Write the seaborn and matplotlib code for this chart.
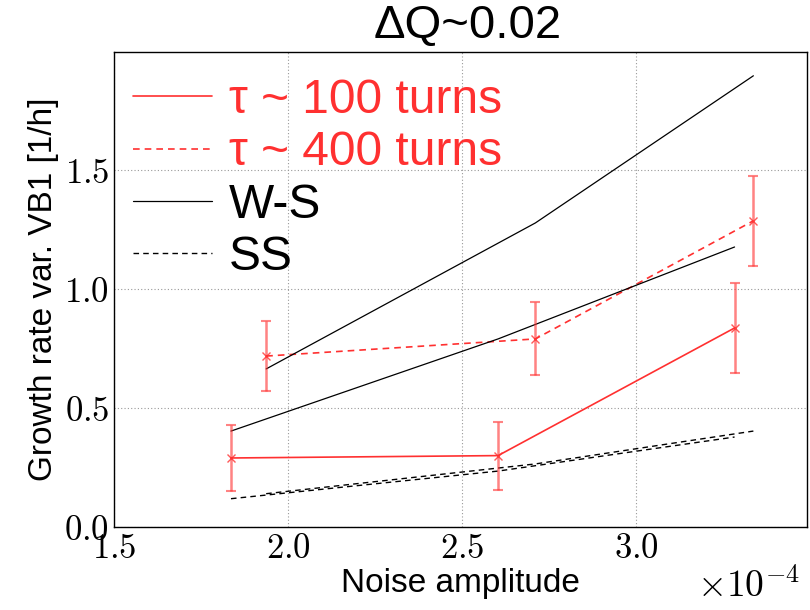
import matplotlib
matplotlib.use("Agg")
import matplotlib.pyplot as plt
import matplotlib.ticker as mticker
import seaborn as sns
import pandas as pd

# x in units of 1e-4
x_t100 = [1.836, 2.603, 3.282]
y_t100 = [0.29, 0.30, 0.836]
e_t100 = [0.14, 0.143, 0.19]

x_t400 = [1.937, 2.71, 3.336]
y_t400 = [0.718, 0.79, 1.286]
e_t400 = [0.147, 0.153, 0.19]

ws1_y = [0.403, 0.79, 1.176]   # on x_t100
ws2_y = [0.664, 1.277, 1.895]  # on x_t400
ss1_y = [0.119, 0.235, 0.378]  # on x_t100
ss2_y = [0.14, 0.265, 0.403]   # on x_t400

labels = ["τ ~ 100 turns", "τ ~ 400 turns", "W-S", "SS"]
title = "ΔQ~0.02"
xticks = [1.5, 2.0, 2.5, 3.0]
yticks = [0.0, 0.5, 1.0, 1.5]

sns.set_style("white")
plt.rcParams["font.family"] = ["Liberation Sans", "DejaVu Sans"]
plt.rcParams["mathtext.fontset"] = "cm"
plt.rcParams["text.color"] = "black"
plt.rcParams["axes.labelcolor"] = "black"
plt.rcParams["xtick.color"] = "black"
plt.rcParams["ytick.color"] = "black"

fig = plt.figure(figsize=(8.1, 6.1), dpi=100)
ax = fig.add_axes([0.1407, 0.136, 0.8556, 0.7788])

RED = "#ff3030"

def line(x, y, **kw):
    df = pd.DataFrame({"x": x, "y": y})
    sns.lineplot(data=df, x="x", y="y", ax=ax, estimator=None, sort=False, **kw)

line(x_t100, y_t100, color=RED, lw=1.2, label=labels[0])
line(x_t400, y_t400, color=RED, lw=1.2, linestyle=(0, (4, 3)), label=labels[1])
line(x_t100, ws1_y, color="black", lw=0.9, label=labels[2])
line(x_t400, ws2_y, color="black", lw=0.9)
line(x_t100, ss1_y, color="black", lw=1.0, linestyle=(0, (4, 3)), label=labels[3])
line(x_t400, ss2_y, color="black", lw=1.0, linestyle=(0, (4, 3)))

for xs, ys, es in [(x_t100, y_t100, e_t100), (x_t400, y_t400, e_t400)]:
    ax.errorbar(xs, ys, yerr=es, fmt="none", ecolor=RED, alpha=0.6,
                elinewidth=1.8, capsize=3.5, capthick=1.5)
    ax.plot(xs, ys, "x", color=RED, ms=6, mew=1.0, alpha=0.8)

ax.set_xlim(1.5, 3.49)
ax.set_ylim(0, 1.995)
ax.set_xticks(xticks)
ax.set_yticks(yticks)
fmt = mticker.FuncFormatter(lambda v, p: r"$%.1f$" % v)
ax.xaxis.set_major_formatter(fmt)
ax.yaxis.set_major_formatter(fmt)
ax.tick_params(labelsize=25, direction="in", length=5, color="black")
ax.grid(True, linestyle=(0, (1, 2)), color="#999999", lw=0.8)
for s in ax.spines.values():
    s.set_color("black")
    s.set_linewidth(1.0)

ax.set_xlabel("Noise amplitude", fontsize=24, labelpad=2)
ax.set_ylabel("Growth rate var. VB1 [1/h]", fontsize=24, labelpad=4)
ax.set_title(title, fontsize=34, pad=10, x=0.51)
fig.text(0.988, 0.008, r"$\times10^{-4}$", fontsize=27, ha="right", va="bottom")

leg = ax.legend(loc="upper left", frameon=False, fontsize=34.5, handlelength=1.65,
                labelspacing=0.15, handletextpad=0.35, borderaxespad=0.0,
                bbox_to_anchor=(0.0, 0.985))
for t, c in zip(leg.get_texts(), [RED, RED, "black", "black"]):
    t.set_color(c)

fig.savefig("out.png", dpi=100)
